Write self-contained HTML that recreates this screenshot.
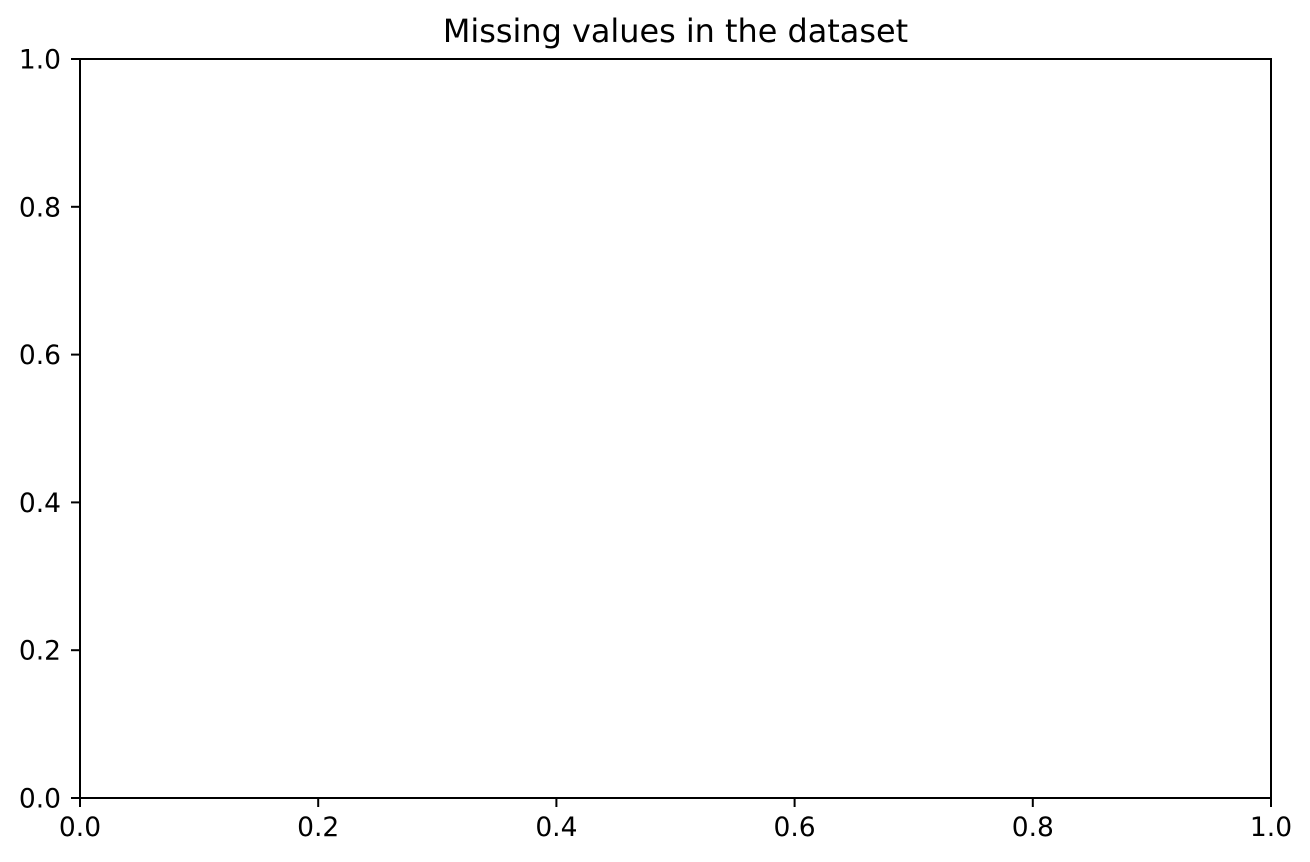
<!DOCTYPE html>
<html><head><meta charset="utf-8"><style>
html,body{margin:0;padding:0;background:#fff;}
svg{display:block;font-family:"DejaVu Sans","Liberation Sans",sans-serif;}
</style></head><body>
<svg id="chart" width="1310" height="862" viewBox="0 0 1310 862" xmlns="http://www.w3.org/2000/svg">
<rect width="1310" height="862" fill="#fff"/>
<text x="675.5" y="42" text-anchor="middle" font-size="31.9" fill="#000">Missing values in the dataset</text>
<g id="axes"></g>
</svg>
<script>
const xTicks = [0.0, 0.2, 0.4, 0.6, 0.8, 1.0];
const yTicks = [0.0, 0.2, 0.4, 0.6, 0.8, 1.0];
const xTickLabels = ["0.0","0.2","0.4","0.6","0.8","1.0"];
const yTickLabels = ["0.0","0.2","0.4","0.6","0.8","1.0"];
const L=80,R=1271,T=59,B=798;
const xs=v=>L+(R-L)*v, ys=v=>B-(B-T)*v;
const NS="http://www.w3.org/2000/svg";
const g=document.getElementById('axes');
function mk(tag,attrs){const e=document.createElementNS(NS,tag);for(const k in attrs)e.setAttribute(k,attrs[k]);g.appendChild(e);return e;}
const frame=mk('rect',{x:L,y:T,width:R-L,height:B-T,fill:'none',stroke:'#000','stroke-width':2});


xTicks.forEach((v,i)=>{
  const t=mk('line',{x1:xs(v),x2:xs(v),y1:B,y2:B+9,stroke:'#000','stroke-width':2});
  
  
  const l=mk('text',{x:xs(v),y:836,'text-anchor':'middle','font-size':26.5,fill:'#000'});
  l.textContent=xTickLabels[i];
  
  
});
yTicks.forEach((v,i)=>{
  const t=mk('line',{x1:L-9,x2:L,y1:ys(v),y2:ys(v),stroke:'#000','stroke-width':2});
  
  
  const l=mk('text',{x:L-19,y:ys(v)+9.5,'text-anchor':'end','font-size':26.5,fill:'#000'});
  l.textContent=yTickLabels[i];
  
  
});
</script>
</body></html>
